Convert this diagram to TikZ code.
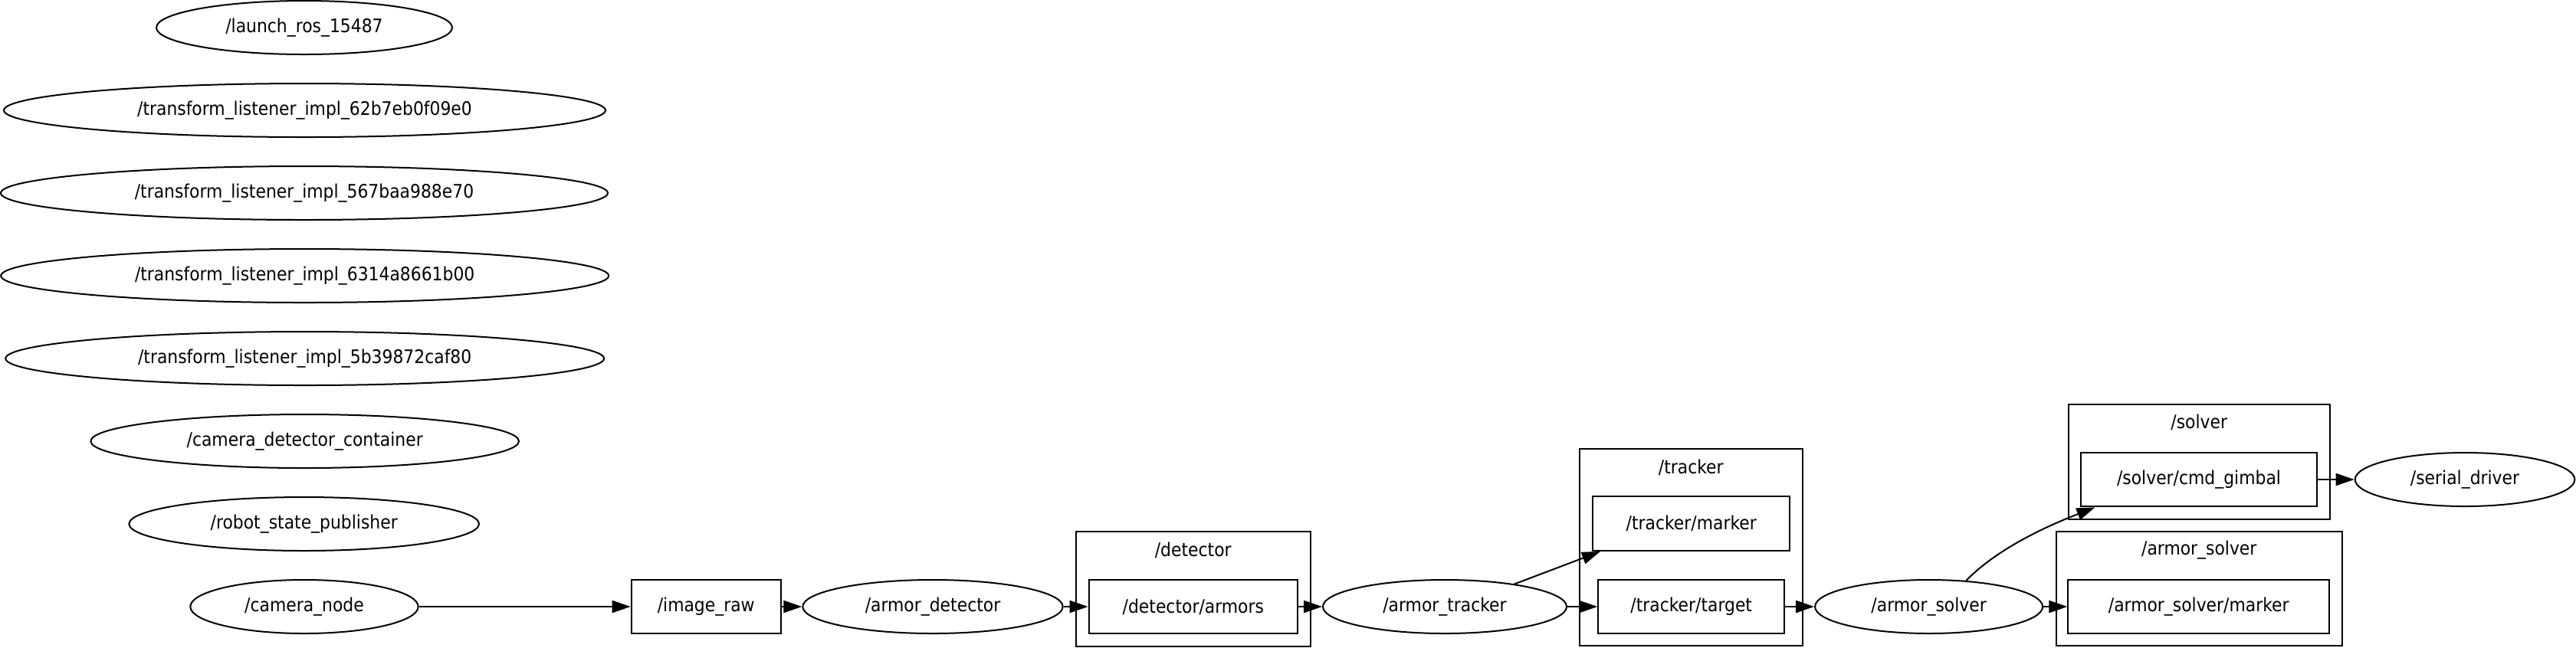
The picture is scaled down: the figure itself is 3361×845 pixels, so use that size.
\documentclass[tikz,border=0pt]{standalone}
\usepackage{fontspec}
\setmainfont{DejaVu Sans Condensed}
\usetikzlibrary{shapes.geometric,arrows.meta}
\begin{document}
\begin{tikzpicture}[x=0.3pt,y=-0.3pt,
  every node/.style={font=\fontsize{7.3}{8}\selectfont, inner sep=0pt},
  ell/.style={ellipse, draw, line width=0.6pt, minimum height=21pt},
  topic/.style={rectangle, draw, line width=0.6pt, minimum height=21.2pt},
  cluster/.style={rectangle, draw, line width=0.6pt},
  edge/.style={line width=0.6pt, -{Triangle[length=7.2pt,width=4.8pt]}}]
\useasboundingbox (0,0) rectangle (3361,845);
% clusters
\node[cluster, minimum width=91.65pt, minimum height=45.1pt] (clDet) at (1556.75,768.85) {};
\node (clDetL) at (1556.75,718.3) {/detector};
\node[cluster, minimum width=87.2pt, minimum height=77.3pt] (clTrk) at (2206.3,714.5) {};
\node (clTrkL) at (2206.3,610) {/tracker};
\node[cluster, minimum width=102.45pt, minimum height=45pt] (clSol) at (2869.25,602.7) {};
\node (clSolL) at (2869.25,551.7) {/solver};
\node[cluster, minimum width=112.05pt, minimum height=44.9pt] (clAS) at (2869.25,768.5) {};
\node (clASL) at (2869.25,718.3) {/armor\_solver};
% left column nodes
\node[ell, minimum width=115.8pt] (launch) at (397,36) {/launch\_ros\_15487};
\node[ell, minimum width=235.5pt] (tfa) at (397.5,144) {/transform\_listener\_impl\_62b7eb0f09e0};
\node[ell, minimum width=237.6pt] (tfb) at (397,252) {/transform\_listener\_impl\_567baa988e70};
\node[ell, minimum width=237.9pt] (tfc) at (397.7,360) {/transform\_listener\_impl\_6314a8661b00};
\node[ell, minimum width=234.3pt] (tfd) at (397.7,468) {/transform\_listener\_impl\_5b39872caf80};
\node[ell, minimum width=167.6pt] (container) at (397.7,576) {/camera\_detector\_container};
\node[ell, minimum width=137pt] (rsp) at (396.7,684) {/robot\_state\_publisher};
\node[ell, minimum width=89.2pt] (camera) at (397,792) {/camera\_node};
% main chain
\node[topic, minimum width=58.5pt] (imgraw) at (921.2,792) {/image\_raw};
\node[ell, minimum width=101.8pt] (adet) at (1217,792) {/armor\_detector};
\node[topic, minimum width=81.7pt] (detarm) at (1556.8,792) {/detector/armors};
\node[ell, minimum width=95.4pt] (atrk) at (1885,792) {/armor\_tracker};
\node[topic, minimum width=77pt] (trkmarker) at (2206.7,683.7) {/tracker/marker};
\node[topic, minimum width=72.8pt] (trktarget) at (2206.7,792) {/tracker/target};
\node[ell, minimum width=89.1pt] (asol) at (2516.6,792) {/armor\_solver};
\node[topic, minimum width=92.4pt] (gimbal) at (2869,626) {/solver/cmd\_gimbal};
\node[topic, minimum width=102.2pt] (asmarker) at (2868.7,792) {/armor\_solver/marker};
\node[ell, minimum width=86pt] (serial) at (3216,626) {/serial\_driver};
% edges
\draw[edge] (camera) -- (imgraw);
\draw[edge] (imgraw) -- (adet);
\draw[edge] (adet) -- (detarm);
\draw[edge] (detarm) -- (atrk);
\draw[edge] (atrk) -- (trktarget);
\draw[edge] (atrk.18.6) -- (trkmarker.197.6);
\draw[edge] (trktarget) -- (asol);
\draw[edge] (asol) -- (asmarker);
\draw[edge] (asol.35) .. controls +(45,-46) and +(-51,20) .. (gimbal.195.6);
\draw[edge] (gimbal) -- (serial);
\end{tikzpicture}
\end{document}
